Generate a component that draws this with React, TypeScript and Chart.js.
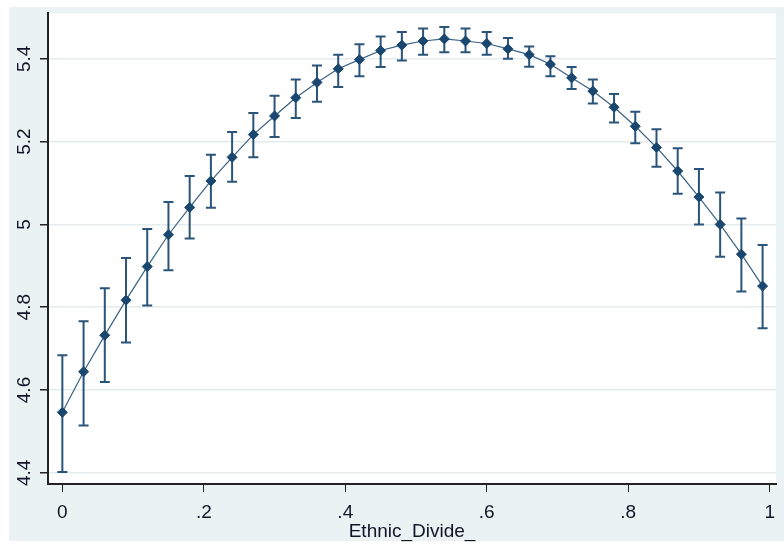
import React, { useEffect, useRef } from "react";
import { Chart, registerables } from "chart.js";

Chart.register(...registerables);

const xValues = [
  0, 0.03, 0.06, 0.09, 0.12, 0.15, 0.18, 0.21, 0.24, 0.27, 0.3, 0.33, 0.36, 0.39, 0.42, 0.45, 0.48,
  0.51, 0.54, 0.57, 0.6, 0.63, 0.66, 0.69, 0.72, 0.75, 0.78, 0.81, 0.84, 0.87, 0.9, 0.93, 0.96, 0.99,
];
const meanValues = [
  4.546, 4.644, 4.732, 4.817, 4.898, 4.975, 5.041, 5.105, 5.162, 5.217, 5.262, 5.306, 5.343, 5.376,
  5.398, 5.42, 5.433, 5.443, 5.448, 5.443, 5.437, 5.424, 5.41, 5.387, 5.354, 5.322, 5.283, 5.237,
  5.186, 5.129, 5.066, 5.0, 4.928, 4.851,
];
const lowerValues = [
  4.402, 4.514, 4.619, 4.715, 4.804, 4.889, 4.966, 5.04, 5.103, 5.162, 5.211, 5.257, 5.296, 5.332,
  5.358, 5.38, 5.396, 5.41, 5.416, 5.416, 5.41, 5.4, 5.381, 5.358, 5.327, 5.292, 5.246, 5.196,
  5.139, 5.074, 5.0, 4.922, 4.838, 4.749,
];
const upperValues = [
  4.684, 4.766, 4.846, 4.919, 4.989, 5.054, 5.117, 5.168, 5.223, 5.269, 5.311, 5.35, 5.384, 5.41,
  5.435, 5.454, 5.465, 5.473, 5.477, 5.473, 5.465, 5.45, 5.43, 5.406, 5.38, 5.35, 5.315, 5.272,
  5.23, 5.184, 5.134, 5.077, 5.014, 4.95,
];
const xTickValues = [0, 0.2, 0.4, 0.6, 0.8, 1];
const xTickLabels = ["0", ".2", ".4", ".6", ".8", "1"];
const yTickValues = [4.4, 4.6, 4.8, 5, 5.2, 5.4];
const yTickLabels = ["4.4", "4.6", "4.8", "5", "5.2", "5.4"];
const xAxisTitle = "Ethnic_Divide_";

const FONT = "'Liberation Sans', Arial, sans-serif";
const TEXT = "#141428";
const AXIS = "#222222";

export default function App() {
  const ref = useRef<HTMLCanvasElement>(null);

  useEffect(() => {
    const canvas = ref.current;
    if (!canvas) return;

    const bgPlugin = {
      id: "bgPlugin",
      beforeDraw(chart: any) {
        const { ctx, chartArea } = chart;
        ctx.save();
        ctx.fillStyle = "#ffffff";
        ctx.fillRect(0, 0, chart.width, chart.height);
        ctx.fillStyle = "#EAF2F3";
        ctx.fillRect(9, 7, chart.width - 9, 534);
        ctx.fillStyle = "#ffffff";
        ctx.fillRect(
          chartArea.left,
          chartArea.top,
          chartArea.right - chartArea.left,
          chartArea.bottom - chartArea.top
        );
        ctx.restore();
      },
    };

    const errPlugin = {
      id: "errPlugin",
      beforeDatasetsDraw(chart: any) {
        const { ctx } = chart;
        const xs = chart.scales.x;
        const ys = chart.scales.y;
        const cap = 5;
        ctx.save();
        ctx.strokeStyle = "#2a5479";
        ctx.lineWidth = 2;
        xValues.forEach((xv, i) => {
          const px = xs.getPixelForValue(xv);
          const top = ys.getPixelForValue(upperValues[i]);
          const bot = ys.getPixelForValue(lowerValues[i]);
          ctx.beginPath();
          ctx.moveTo(px, top);
          ctx.lineTo(px, bot);
          ctx.moveTo(px - cap, top);
          ctx.lineTo(px + cap, top);
          ctx.moveTo(px - cap, bot);
          ctx.lineTo(px + cap, bot);
          ctx.stroke();
        });
        ctx.restore();
      },
    };

    const chart = new Chart(canvas, {
      type: "scatter",
      data: {
        datasets: [
          {
            data: xValues.map((x, i) => ({ x, y: meanValues[i] })),
            showLine: true,
            borderColor: "#3b6184",
            borderWidth: 1.2,
            pointStyle: "rectRot",
            pointRadius: 5,
            pointBackgroundColor: "#1a476f",
            pointBorderColor: "#1a476f",
            pointBorderWidth: 1,
            tension: 0,
          } as any,
        ],
      },
      options: {
        responsive: false,
        animation: false,
        devicePixelRatio: 1,
        layout: { padding: { left: 0, top: 10, right: 0, bottom: 0 } },
        plugins: { legend: { display: false }, tooltip: { enabled: false } },
        scales: {
          x: {
            type: "linear",
            min: -0.0203,
            max: 1.0091,
            afterBuildTicks: (s: any) => {
              s.ticks = xTickValues.map((v) => ({ value: v }));
            },
            afterFit: (s: any) => {
              s.height = 61;
            },
            ticks: {
              callback: (_v: any, i: number) => xTickLabels[i],
              font: { family: FONT, size: 19 },
              color: TEXT,
              padding: 9,
              maxRotation: 0,
              autoSkip: false,
            },
            grid: {
              drawOnChartArea: false,
              color: AXIS,
              tickColor: AXIS,
              tickLength: 8,
              lineWidth: 1,
            },
            border: { color: AXIS, width: 2 },
            title: {
              display: true,
              text: xAxisTitle,
              font: { family: FONT, size: 19 },
              color: TEXT,
              padding: { top: 0, bottom: 2 },
            },
          },
          y: {
            type: "linear",
            min: 4.3729,
            max: 5.5097,
            afterBuildTicks: (s: any) => {
              s.ticks = yTickValues.map((v) => ({ value: v }));
            },
            afterFit: (s: any) => {
              s.width = 48;
            },
            ticks: {
              callback: (_v: any, i: number) => yTickLabels[i],
              font: { family: FONT, size: 19 },
              color: TEXT,
              minRotation: 90,
              maxRotation: 90,
              crossAlign: "center",
              padding: 2,
              autoSkip: false,
            },
            grid: {
              color: "#E4ECEE",
              lineWidth: 1.5,
              tickColor: AXIS,
              tickLength: 8,
            },
            border: { color: AXIS, width: 2 },
          },
        },
      },
      plugins: [bgPlugin, errPlugin],
    } as any);

    return () => chart.destroy();
  }, []);

  return (
    <div style={{ position: "absolute", left: 0, top: 0, width: 784, height: 545 }}>
      <canvas ref={ref} width={784} height={545} style={{ display: "block" }} />
    </div>
  );
}
